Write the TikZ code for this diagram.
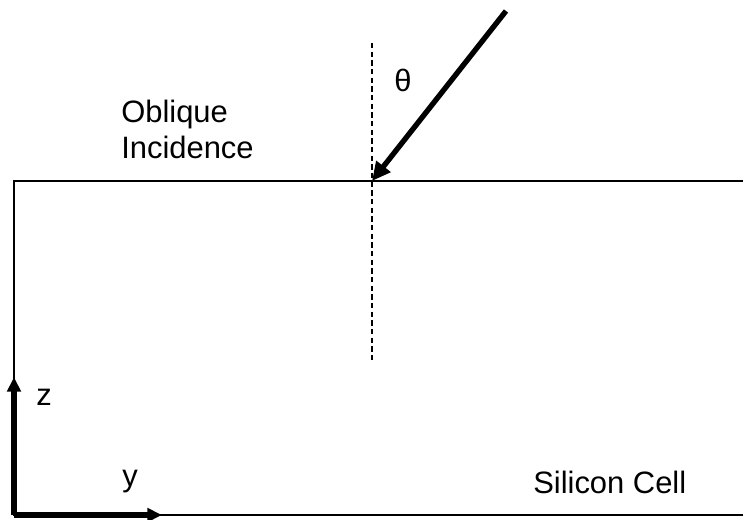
\documentclass[tikz,border=0pt]{standalone}
\usepackage{fontspec}
\setmainfont{Liberation Sans}
\usetikzlibrary{arrows.meta}

\begin{document}
\begin{tikzpicture}[
  % pixel grid of the reference, y pointing down
  x={(0.75pt,0cm)},
  y={(0cm,-0.75pt)},
  font=\fontsize{23.2}{27}\selectfont,
  edge/.style={line width=1.4pt},
  axis/.style={line width=3.8pt, -{Triangle[length=11pt, width=10pt]}},
  ray/.style={line width=4pt, -{Triangle[length=14pt, width=13pt]}},
  normal/.style={line width=1.2pt, dash pattern=on 4pt off 2.5pt}
]
  \useasboundingbox (0,0) rectangle (743,520);

  % Cell outline
  \coordinate (tl) at (14,181);
  \coordinate (tr) at (743,181);
  \coordinate (bl) at (14,515);
  \coordinate (br) at (743,515);
  \draw[edge] (tr) -- (tl) -- (bl) -- (br);

  % Axes at the lower left corner
  \coordinate (zend) at (14,377);
  \coordinate (yend) at (162,515);
  \draw[axis] (bl) -- (zend);
  \draw[axis] (bl) -- (yend);
  \node (zlabel) at (44,397) {z};
  \node (ylabel) at (130,482) {y};

  % Incident ray and surface normal
  \coordinate (hit) at (372,181);
  \coordinate (src) at (506,11);
  \coordinate (ntop) at (372,43);
  \coordinate (nbot) at (372,360);
  \draw[normal] (ntop) -- (nbot);
  \draw[ray] (src) -- (hit);
  \node (theta) at (403,80) {θ};

  % Labels
  \node[anchor=north west, align=left, inner sep=0pt] (oblique) at (121,100) {Oblique\\Incidence};
  \node[anchor=west, inner sep=0pt] (cell) at (533,482) {Silicon Cell};
\end{tikzpicture}
\end{document}
